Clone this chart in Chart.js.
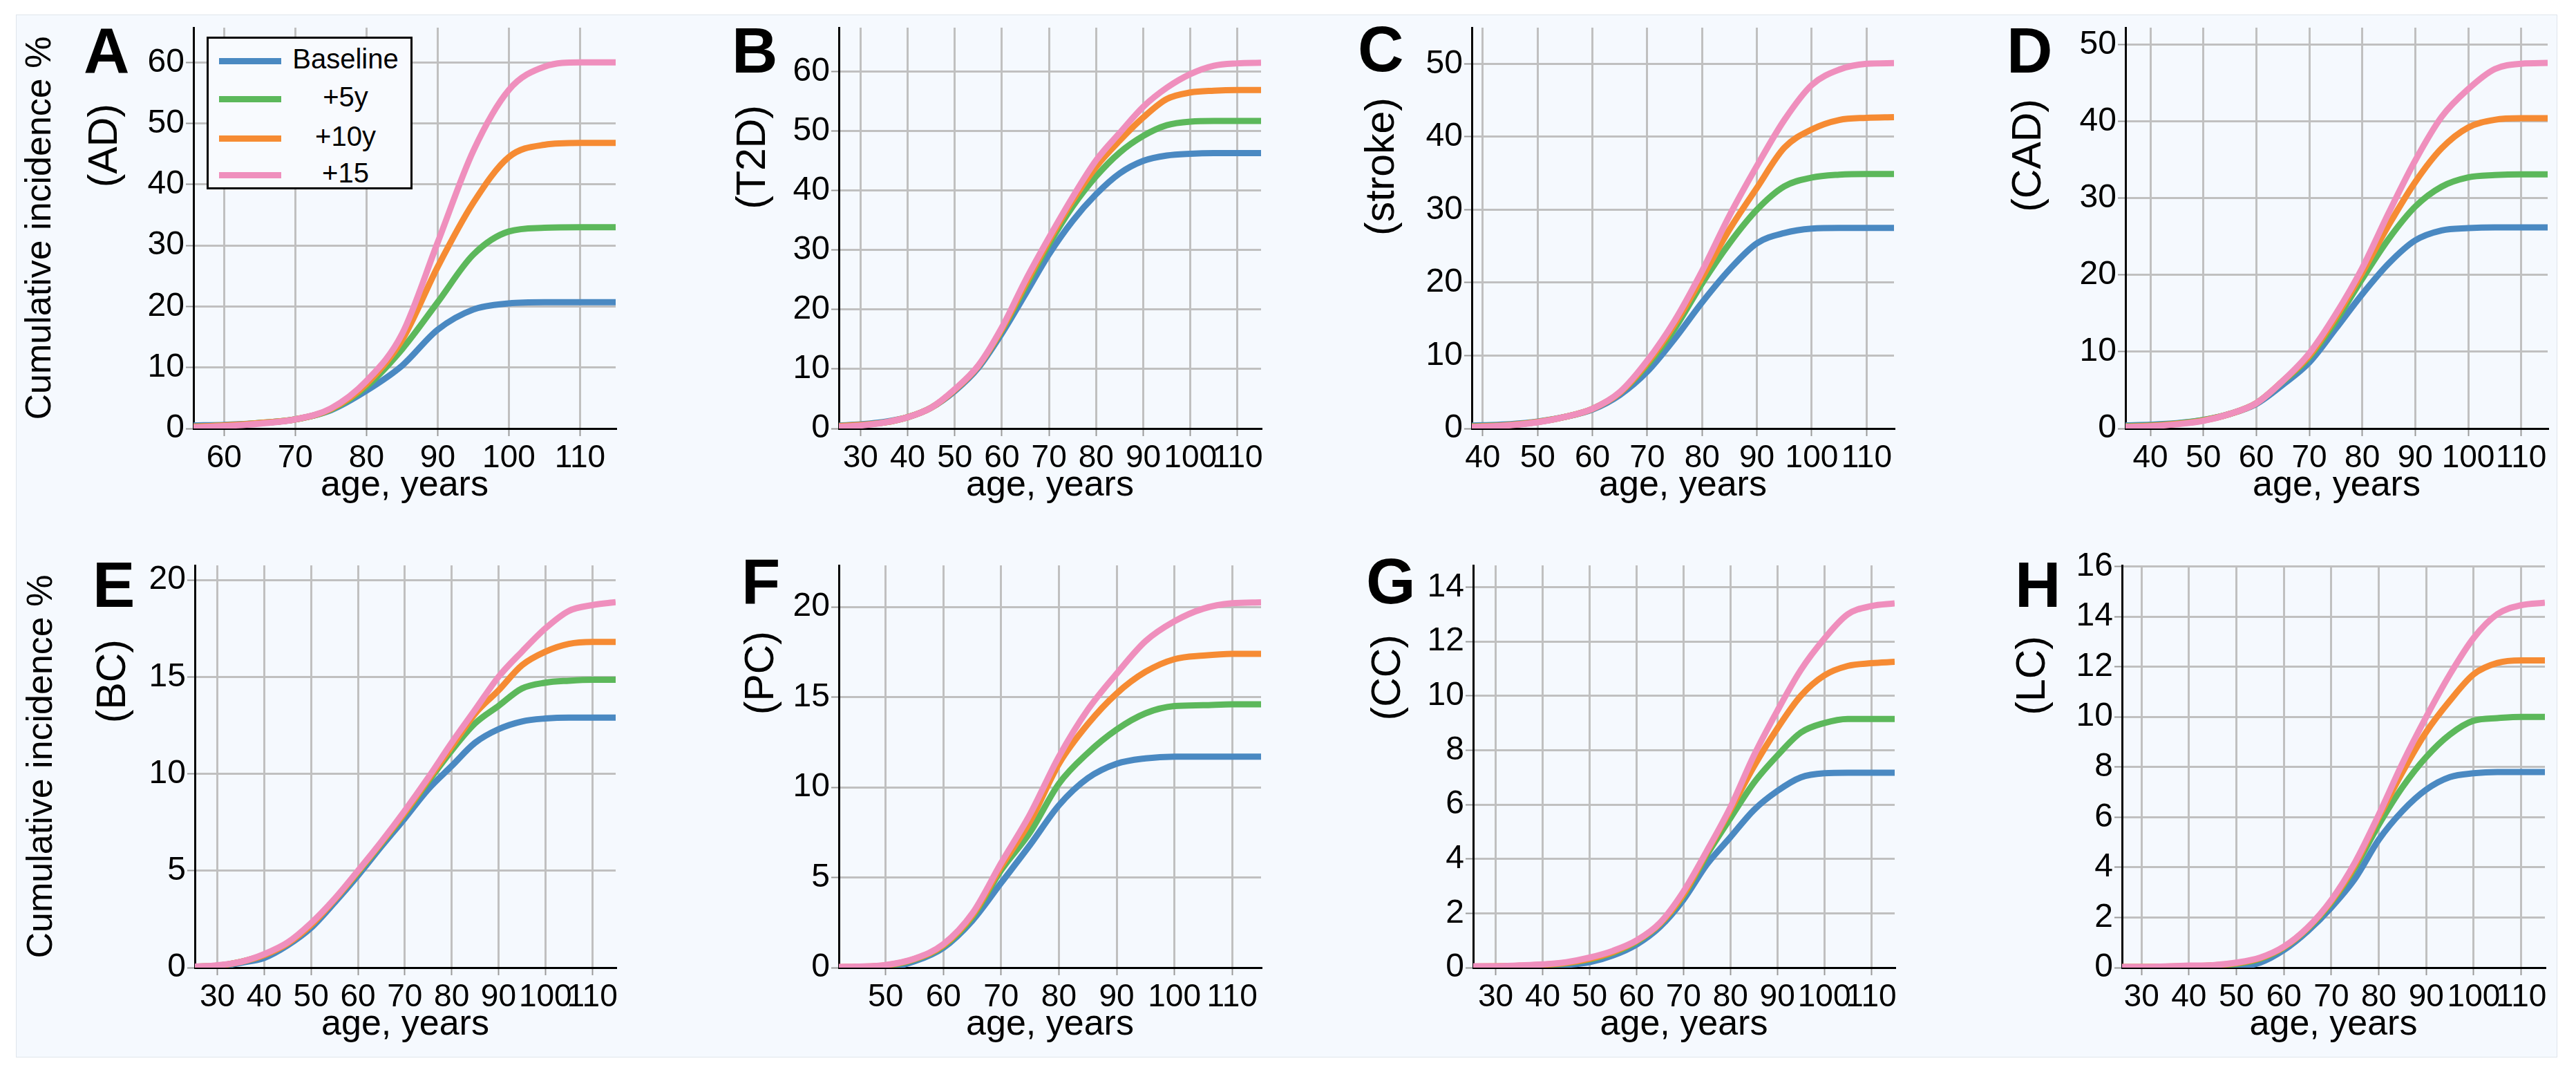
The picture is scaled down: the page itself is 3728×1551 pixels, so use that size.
<!DOCTYPE html>
<html>
<head>
<meta charset="utf-8">
<title>Cumulative incidence by age</title>
<script src="https://cdn.jsdelivr.net/npm/chart.js@4.4.1/dist/chart.umd.min.js"></script>
<style>
  html, body { margin: 0; padding: 0; background: #fff; }
  body { width: 3728px; height: 1551px; position: relative; overflow: hidden;
         font-family: "Liberation Sans", Arial, sans-serif; }
  #panel { position: absolute; left: 23px; top: 21px; width: 3676px; height: 1507px;
           background: #f5f9fe; border: 1px solid #dfe5ec; }
  .cell { position: absolute; }
  #legend { position: absolute; left: 299px; top: 53px; width: 292px; height: 215px;
            border: 3px solid #000; background: #f8fafe; z-index: 5; }
  .item { position: absolute; left: 0; width: 100%; height: 0; }
  .swatch { position: absolute; left: 15px; width: 90px; height: 9px; top: -4px; }
  .name { position: absolute; left: 108px; width: 180px; top: -23px; text-align: center;
          font-size: 40px; line-height: 40px; color: #000; }
</style>
</head>
<body>
<div id="panel"></div>
<div id="legend"></div>
<script>
// series
const SERIES_NAMES = ['Baseline', '+5y', '+10y', '+15'];

// A - AD
const AGES_AD = [55.7, 60, 65, 70, 75, 80, 85, 90, 95, 100, 105, 110, 115];
const AD_BASE = [0.5, 0.6, 0.9, 1.5, 3.0, 6.2, 10.3, 16.2, 19.5, 20.5, 20.7, 20.7, 20.7];
const AD_5Y   = [0.3, 0.5, 0.9, 1.5, 3.1, 6.9, 13.0, 20.7, 28.5, 32.3, 32.9, 33.0, 33.0];
const AD_10Y  = [0.3, 0.5, 0.9, 1.5, 3.2, 7.3, 14.5, 26.5, 37.0, 44.5, 46.5, 46.8, 46.8];
const AD_15Y  = [0.2, 0.4, 0.8, 1.5, 3.3, 7.8, 15.5, 30.5, 45.5, 55.5, 59.3, 60.0, 60.0];

// B - T2D
const AGES_T2D = [25.4, 30, 35, 40, 45, 50, 55, 60, 65, 70, 75, 80, 85, 90, 95, 100, 105, 110, 115];
const T2D_BASE = [0.5, 0.7, 1.1, 1.9, 3.5, 6.3, 10.2, 16.0, 22.6, 29.3, 34.9, 39.4, 42.9, 45.0, 45.9, 46.2, 46.3, 46.3, 46.3];
const T2D_5Y   = [0.4, 0.6, 1.0, 1.9, 3.5, 6.5, 10.5, 16.5, 23.8, 31.0, 37.3, 42.4, 46.4, 49.2, 51.0, 51.6, 51.7, 51.7, 51.7];
const T2D_10Y  = [0.4, 0.6, 1.0, 1.9, 3.5, 6.5, 10.5, 16.7, 24.3, 31.6, 38.3, 44.0, 48.4, 52.3, 55.4, 56.5, 56.8, 56.9, 56.9];
const T2D_15Y  = [0.3, 0.5, 1.0, 1.9, 3.5, 6.6, 10.6, 17.0, 24.9, 32.1, 38.9, 45.1, 49.7, 54.1, 57.3, 59.6, 61.0, 61.4, 61.5];

// C - stroke
const AGES_STROKE = [38, 40, 45, 50, 55, 60, 65, 70, 75, 80, 85, 90, 95, 100, 105, 110, 115];
const STROKE_BASE = [0.4, 0.45, 0.6, 0.95, 1.6, 2.6, 4.6, 7.8, 12.3, 17.3, 21.8, 25.4, 26.8, 27.4, 27.5, 27.5, 27.5];
const STROKE_5Y   = [0.3, 0.35, 0.5, 0.9, 1.6, 2.7, 4.9, 8.7, 13.7, 19.9, 25.4, 30.0, 33.2, 34.4, 34.8, 34.9, 34.9];
const STROKE_10Y  = [0.25, 0.3, 0.5, 0.9, 1.6, 2.7, 4.9, 9.0, 14.3, 20.7, 27.3, 33.0, 38.5, 41.0, 42.3, 42.6, 42.7];
const STROKE_15Y  = [0.2, 0.25, 0.45, 0.85, 1.6, 2.7, 5.0, 9.3, 14.8, 21.6, 29.2, 36.0, 42.3, 47.1, 49.2, 50.0, 50.1];

// D - CAD
const AGES_CAD = [35.3, 40, 45, 50, 55, 60, 65, 70, 75, 80, 85, 90, 95, 100, 105, 110, 115];
const CAD_BASE = [0.4, 0.5, 0.7, 1.1, 1.9, 3.2, 5.7, 8.6, 13.0, 17.5, 21.5, 24.5, 25.8, 26.1, 26.2, 26.2, 26.2];
const CAD_5Y   = [0.3, 0.4, 0.65, 1.1, 1.9, 3.3, 6.1, 9.3, 14.0, 19.5, 24.7, 28.9, 31.5, 32.7, 33.0, 33.1, 33.1];
const CAD_10Y  = [0.25, 0.35, 0.6, 1.05, 1.9, 3.3, 6.2, 9.5, 14.5, 20.3, 26.5, 32.1, 36.5, 39.2, 40.2, 40.4, 40.4];
const CAD_15Y  = [0.2, 0.3, 0.55, 1.0, 1.9, 3.3, 6.2, 9.8, 14.9, 20.9, 28.1, 34.9, 40.6, 44.2, 46.8, 47.5, 47.6];

// E - BC
const AGES_BC = [25.2, 30, 35, 40, 45, 50, 55, 60, 65, 70, 75, 80, 85, 90, 95, 100, 105, 110, 115];
const BC_BASE = [0.02, 0.04, 0.25, 0.5, 1.15, 2.05, 3.35, 4.75, 6.25, 7.7, 9.2, 10.4, 11.6, 12.3, 12.7, 12.85, 12.9, 12.9, 12.9];
const BC_5Y   = [0.05, 0.1, 0.3, 0.65, 1.25, 2.2, 3.5, 4.9, 6.4, 7.95, 9.6, 11.2, 12.6, 13.5, 14.4, 14.7, 14.8, 14.85, 14.85];
const BC_10Y  = [0.05, 0.1, 0.3, 0.65, 1.25, 2.2, 3.5, 4.95, 6.45, 8.0, 9.7, 11.4, 13.1, 14.3, 15.6, 16.3, 16.7, 16.8, 16.8];
const BC_15Y  = [0.05, 0.12, 0.3, 0.7, 1.3, 2.3, 3.55, 5.0, 6.5, 8.1, 9.8, 11.6, 13.3, 15.0, 16.3, 17.5, 18.4, 18.7, 18.85];

// F - PC
const AGES_PC = [41.9, 45, 50, 55, 60, 65, 70, 75, 80, 85, 90, 95, 100, 105, 110, 115];
const PC_BASE = [0, 0, 0, 0.35, 1.1, 2.6, 4.7, 6.8, 9.0, 10.5, 11.3, 11.6, 11.7, 11.7, 11.7, 11.7];
const PC_5Y   = [0.02, 0.03, 0.1, 0.45, 1.2, 2.8, 5.4, 7.5, 10.2, 11.9, 13.2, 14.1, 14.5, 14.55, 14.6, 14.6];
const PC_10Y  = [0.03, 0.05, 0.13, 0.48, 1.25, 2.9, 5.6, 8.1, 11.3, 13.5, 15.2, 16.4, 17.1, 17.3, 17.4, 17.4];
const PC_15Y  = [0.04, 0.06, 0.15, 0.5, 1.3, 3.0, 5.8, 8.5, 11.7, 14.3, 16.3, 18.1, 19.2, 19.9, 20.2, 20.25];

// G - CC
const AGES_CC = [25.2, 30, 35, 40, 45, 50, 55, 60, 65, 70, 75, 80, 85, 90, 95, 100, 105, 110, 115];
const CC_BASE = [0.0, 0.0, 0.02, 0.05, 0.1, 0.2, 0.45, 0.85, 1.5, 2.5, 3.8, 4.8, 5.8, 6.5, 7.0, 7.15, 7.17, 7.17, 7.17];
const CC_5Y   = [0.03, 0.04, 0.06, 0.1, 0.16, 0.3, 0.55, 0.95, 1.6, 2.65, 4.15, 5.5, 6.8, 7.8, 8.65, 9.0, 9.15, 9.15, 9.15];
const CC_10Y  = [0.04, 0.05, 0.07, 0.11, 0.18, 0.33, 0.58, 0.98, 1.62, 2.7, 4.25, 5.8, 7.4, 8.8, 10.0, 10.75, 11.1, 11.2, 11.25];
const CC_15Y  = [0.05, 0.05, 0.08, 0.12, 0.2, 0.37, 0.62, 1.0, 1.65, 2.8, 4.3, 5.9, 7.8, 9.45, 10.95, 12.1, 13.0, 13.3, 13.4];

// H - LC
const AGES_LC = [25.9, 30, 35, 40, 45, 50, 55, 60, 65, 70, 75, 80, 85, 90, 95, 100, 105, 110, 115];
const LC_BASE = [0, 0, 0, 0, 0.01, 0.03, 0.2, 0.7, 1.45, 2.4, 3.55, 5.1, 6.25, 7.1, 7.6, 7.75, 7.8, 7.8, 7.8];
const LC_5Y   = [0.02, 0.02, 0.03, 0.05, 0.08, 0.15, 0.35, 0.8, 1.55, 2.6, 4.0, 5.7, 7.2, 8.4, 9.3, 9.85, 9.95, 10.0, 10.0];
const LC_10Y  = [0.03, 0.03, 0.04, 0.06, 0.09, 0.18, 0.38, 0.82, 1.58, 2.65, 4.1, 6.0, 7.8, 9.4, 10.65, 11.7, 12.15, 12.25, 12.25];
const LC_15Y  = [0.03, 0.03, 0.05, 0.08, 0.1, 0.2, 0.4, 0.84, 1.6, 2.7, 4.2, 6.1, 8.15, 10.0, 11.7, 13.15, 14.1, 14.45, 14.55];

// tick labels
const X_TICKS_AD = [60, 70, 80, 90, 100, 110];
const X_TICKS_25 = [30, 40, 50, 60, 70, 80, 90, 100, 110];
const X_TICKS_40 = [40, 50, 60, 70, 80, 90, 100, 110];
const X_TICKS_PC = [50, 60, 70, 80, 90, 100, 110];
const Y_TICKS_60 = [0, 10, 20, 30, 40, 50, 60];
const Y_TICKS_50 = [0, 10, 20, 30, 40, 50];
const Y_TICKS_20 = [0, 5, 10, 15, 20];
const Y_TICKS_14 = [0, 2, 4, 6, 8, 10, 12, 14];
const Y_TICKS_16 = [0, 2, 4, 6, 8, 10, 12, 14, 16];

const PANELS = [
  { id: 'A', disease: '(AD)', ages: AGES_AD, series: [AD_BASE, AD_5Y, AD_10Y, AD_15Y], xTicks: X_TICKS_AD, yTicks: Y_TICKS_60, yMax: 65.7, yTitle: 'Cumulative incidence %' },
  { id: 'B', disease: '(T2D)', ages: AGES_T2D, series: [T2D_BASE, T2D_5Y, T2D_10Y, T2D_15Y], xTicks: X_TICKS_25, yTicks: Y_TICKS_60, yMax: 67.4 },
  { id: 'C', disease: '(stroke)', ages: AGES_STROKE, series: [STROKE_BASE, STROKE_5Y, STROKE_10Y, STROKE_15Y], xTicks: X_TICKS_40, yTicks: Y_TICKS_50, yMax: 54.96 },
  { id: 'D', disease: '(CAD)', ages: AGES_CAD, series: [CAD_BASE, CAD_5Y, CAD_10Y, CAD_15Y], xTicks: X_TICKS_40, yTicks: Y_TICKS_50, yMax: 52.2 },
  { id: 'E', disease: '(BC)', ages: AGES_BC, series: [BC_BASE, BC_5Y, BC_10Y, BC_15Y], xTicks: X_TICKS_25, yTicks: Y_TICKS_20, yMax: 20.75, yTitle: 'Cumulative incidence %' },
  { id: 'F', disease: '(PC)', ages: AGES_PC, series: [PC_BASE, PC_5Y, PC_10Y, PC_15Y], xTicks: X_TICKS_PC, yTicks: Y_TICKS_20, yMax: 22.3 },
  { id: 'G', disease: '(CC)', ages: AGES_CC, series: [CC_BASE, CC_5Y, CC_10Y, CC_15Y], xTicks: X_TICKS_25, yTicks: Y_TICKS_14, yMax: 14.8 },
  { id: 'H', disease: '(LC)', ages: AGES_LC, series: [LC_BASE, LC_5Y, LC_10Y, LC_15Y], xTicks: X_TICKS_25, yTicks: Y_TICKS_16, yMax: 16.04 }
];

// page geometry: plot area edges, panel letter (left, baseline), disease label (centre x, top)
const LAYOUT = {
  A: { l: 280,  r: 891,  t: 40,  b: 620,  letter: [121, 105],  label: [153, 150] },
  B: { l: 1214, r: 1825, t: 40,  b: 620,  letter: [1059, 105], label: [1091, 152] },
  C: { l: 2130, r: 2741, t: 40,  b: 620,  letter: [1965, 103], label: [2001, 141] },
  D: { l: 3076, r: 3687, t: 40,  b: 620,  letter: [2904, 105], label: [2937, 143] },
  E: { l: 282,  r: 891,  t: 818, b: 1400, letter: [134, 878],  label: [165, 925] },
  F: { l: 1214, r: 1825, t: 818, b: 1400, letter: [1073, 873], label: [1103, 913] },
  G: { l: 2132, r: 2742, t: 818, b: 1400, letter: [1977, 873], label: [2010, 918] },
  H: { l: 3071, r: 3683, t: 818, b: 1400, letter: [2916, 878], label: [2943, 920] }
};
const COLORS = ['#4a89c2', '#5cb85b', '#f68b33', '#ef8fbd'];
const Y_BOX = 290, X_BOX = 140, PAD_TOP = 40, PAD_RIGHT = 20;
const LEGEND_ROW_Y = [32, 87, 144, 197];
const FONT = '"Liberation Sans", Arial, sans-serif';

Chart.defaults.font.family = FONT;
Chart.defaults.color = '#000';

// panel letter and disease label
const panelText = {
  id: 'panelText',
  afterDraw(chart, args, opts) {
    const ctx = chart.ctx;
    ctx.save();
    ctx.fillStyle = '#000';
    ctx.font = 'bold 92px ' + FONT;
    ctx.textAlign = 'left';
    ctx.textBaseline = 'alphabetic';
    ctx.fillText(opts.letter, opts.letterX, opts.letterY);
    ctx.translate(opts.labelX, opts.labelY);
    ctx.rotate(-Math.PI / 2);
    ctx.font = '59px ' + FONT;
    ctx.textAlign = 'right';
    ctx.textBaseline = 'middle';
    ctx.fillText(opts.disease, 0, 0);
    ctx.restore();
  }
};

function gridOpts() {
  return { color: '#c0c0c0', lineWidth: 3, tickLength: 11, tickColor: '#9a9a9a', tickWidth: 2 };
}

function makePanel(p) {
  const g = LAYOUT[p.id];
  const ox = g.l - Y_BOX, oy = g.t - PAD_TOP;
  const cell = document.createElement('div');
  cell.className = 'cell';
  cell.style.left = ox + 'px';
  cell.style.top = oy + 'px';
  cell.style.width = (g.r - g.l + Y_BOX + PAD_RIGHT) + 'px';
  cell.style.height = (g.b - g.t + PAD_TOP + X_BOX) + 'px';
  const canvas = document.createElement('canvas');
  cell.appendChild(canvas);
  document.body.appendChild(cell);

  const datasets = p.series.map((vals, k) => ({
    label: SERIES_NAMES[k],
    data: p.ages.map((a, i) => ({ x: a, y: vals[i] })),
    borderColor: COLORS[k],
    backgroundColor: COLORS[k],
    borderWidth: 9,
    pointRadius: 0,
    fill: false,
    cubicInterpolationMode: 'monotone',
    order: p.series.length - 1 - k
  }));

  return new Chart(canvas, {
    type: 'line',
    data: { datasets },
    options: {
      responsive: true,
      maintainAspectRatio: false,
      animation: false,
      devicePixelRatio: 1,
      events: [],
      layout: { padding: { left: 0, top: PAD_TOP, right: PAD_RIGHT, bottom: 0 } },
      plugins: {
        legend: { display: false },
        tooltip: { enabled: false },
        panelText: {
          letter: p.id, letterX: g.letter[0] - ox, letterY: g.letter[1] - oy,
          disease: p.disease, labelX: g.label[0] - ox, labelY: g.label[1] - oy
        }
      },
      scales: {
        x: {
          type: 'linear',
          bounds: 'data',
          min: p.ages[0],
          max: p.ages[p.ages.length - 1],
          afterBuildTicks: s => { s.ticks = p.xTicks.map(v => ({ value: v })); },
          afterFit: s => { s.height = X_BOX; },
          grid: gridOpts(),
          border: { display: true, color: '#000', width: 3 },
          ticks: { font: { size: 46 }, color: '#000', padding: 5, autoSkip: false, maxRotation: 0, minRotation: 0 },
          title: { display: true, text: 'age, years', font: { size: 52 }, color: '#000', padding: { top: 0, bottom: 26 } }
        },
        y: {
          type: 'linear',
          bounds: 'data',
          min: 0,
          max: p.yMax,
          afterBuildTicks: s => { s.ticks = p.yTicks.map(v => ({ value: v })); },
          afterFit: s => { s.width = Y_BOX; },
          grid: gridOpts(),
          border: { display: true, color: '#000', width: 3 },
          ticks: { font: { size: 48 }, color: '#000', padding: 2 },
          title: { display: !!p.yTitle, text: p.yTitle || '', font: { size: 52 }, color: '#000', padding: { top: 37, bottom: 0 } }
        }
      }
    },
    plugins: [panelText]
  });
}

const charts = PANELS.map(makePanel);

// legend inside panel A, built from its datasets
function buildLegend(chart) {
  const box = document.getElementById('legend');
  chart.data.datasets.forEach((ds, i) => {
    const row = document.createElement('div');
    row.className = 'item';
    row.style.top = LEGEND_ROW_Y[i] + 'px';
    const sw = document.createElement('div');
    sw.className = 'swatch';
    sw.style.background = ds.borderColor;
    const name = document.createElement('div');
    name.className = 'name';
    name.textContent = ds.label;
    row.appendChild(sw);
    row.appendChild(name);
    box.appendChild(row);
  });
}
buildLegend(charts[0]);
</script>
</body>
</html>
